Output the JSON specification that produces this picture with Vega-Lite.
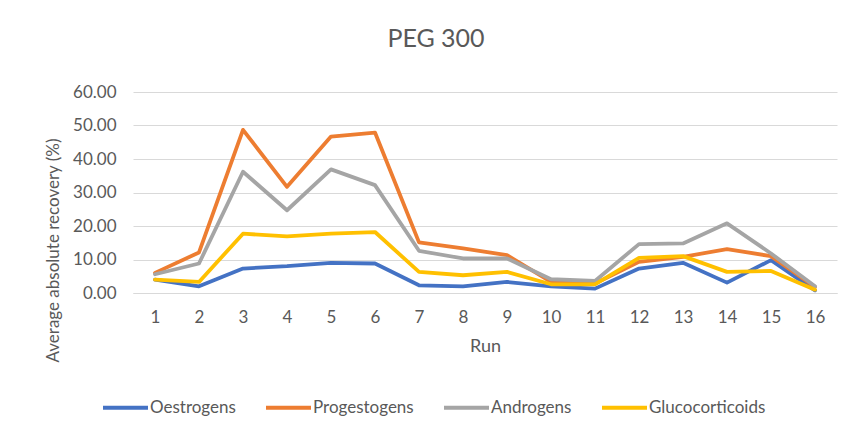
{
  "$schema": "https://vega.github.io/schema/vega-lite/v6.json",
  "width": 704,
  "height": 201,
  "autosize": {"type": "none"},
  "padding": {"left": 133, "top": 92, "right": 14, "bottom": 137},
  "background": "white",
  "config": {
    "font": "Lato",
    "view": {"stroke": null}
  },
  "title": {
    "text": "PEG 300",
    "fontSize": 25,
    "fontWeight": "normal",
    "color": "#595959",
    "anchor": "middle",
    "dx": -49,
    "offset": 31
  },
  "data": {
    "values": [
      {"run": 1, "group": "Oestrogens", "value": 4.0},
      {"run": 2, "group": "Oestrogens", "value": 2.0},
      {"run": 3, "group": "Oestrogens", "value": 7.3},
      {"run": 4, "group": "Oestrogens", "value": 8.0},
      {"run": 5, "group": "Oestrogens", "value": 9.0},
      {"run": 6, "group": "Oestrogens", "value": 8.8},
      {"run": 7, "group": "Oestrogens", "value": 2.3},
      {"run": 8, "group": "Oestrogens", "value": 2.0},
      {"run": 9, "group": "Oestrogens", "value": 3.3},
      {"run": 10, "group": "Oestrogens", "value": 2.0},
      {"run": 11, "group": "Oestrogens", "value": 1.3},
      {"run": 12, "group": "Oestrogens", "value": 7.3},
      {"run": 13, "group": "Oestrogens", "value": 9.0},
      {"run": 14, "group": "Oestrogens", "value": 3.1},
      {"run": 15, "group": "Oestrogens", "value": 9.8},
      {"run": 16, "group": "Oestrogens", "value": 0.8},
      {"run": 1, "group": "Progestogens", "value": 6.0},
      {"run": 2, "group": "Progestogens", "value": 12.1},
      {"run": 3, "group": "Progestogens", "value": 48.7},
      {"run": 4, "group": "Progestogens", "value": 31.7},
      {"run": 5, "group": "Progestogens", "value": 46.7},
      {"run": 6, "group": "Progestogens", "value": 47.9},
      {"run": 7, "group": "Progestogens", "value": 15.1},
      {"run": 8, "group": "Progestogens", "value": 13.3},
      {"run": 9, "group": "Progestogens", "value": 11.3},
      {"run": 10, "group": "Progestogens", "value": 3.3},
      {"run": 11, "group": "Progestogens", "value": 2.8},
      {"run": 12, "group": "Progestogens", "value": 9.3},
      {"run": 13, "group": "Progestogens", "value": 10.8},
      {"run": 14, "group": "Progestogens", "value": 13.1},
      {"run": 15, "group": "Progestogens", "value": 11.0},
      {"run": 16, "group": "Progestogens", "value": 1.8},
      {"run": 1, "group": "Androgens", "value": 5.6},
      {"run": 2, "group": "Androgens", "value": 8.8},
      {"run": 3, "group": "Androgens", "value": 36.2},
      {"run": 4, "group": "Androgens", "value": 24.7},
      {"run": 5, "group": "Androgens", "value": 36.9},
      {"run": 6, "group": "Androgens", "value": 32.2},
      {"run": 7, "group": "Androgens", "value": 12.6},
      {"run": 8, "group": "Androgens", "value": 10.3},
      {"run": 9, "group": "Androgens", "value": 10.3},
      {"run": 10, "group": "Androgens", "value": 4.1},
      {"run": 11, "group": "Androgens", "value": 3.6},
      {"run": 12, "group": "Androgens", "value": 14.6},
      {"run": 13, "group": "Androgens", "value": 14.8},
      {"run": 14, "group": "Androgens", "value": 20.8},
      {"run": 15, "group": "Androgens", "value": 11.8},
      {"run": 16, "group": "Androgens", "value": 2.0},
      {"run": 1, "group": "Glucocorticoids", "value": 4.0},
      {"run": 2, "group": "Glucocorticoids", "value": 3.3},
      {"run": 3, "group": "Glucocorticoids", "value": 17.7},
      {"run": 4, "group": "Glucocorticoids", "value": 16.9},
      {"run": 5, "group": "Glucocorticoids", "value": 17.7},
      {"run": 6, "group": "Glucocorticoids", "value": 18.2},
      {"run": 7, "group": "Glucocorticoids", "value": 6.3},
      {"run": 8, "group": "Glucocorticoids", "value": 5.3},
      {"run": 9, "group": "Glucocorticoids", "value": 6.3},
      {"run": 10, "group": "Glucocorticoids", "value": 2.6},
      {"run": 11, "group": "Glucocorticoids", "value": 2.6},
      {"run": 12, "group": "Glucocorticoids", "value": 10.5},
      {"run": 13, "group": "Glucocorticoids", "value": 11.0},
      {"run": 14, "group": "Glucocorticoids", "value": 6.3},
      {"run": 15, "group": "Glucocorticoids", "value": 6.6},
      {"run": 16, "group": "Glucocorticoids", "value": 1.0}
    ]
  },
  "mark": {"type": "line", "strokeWidth": 3.8, "strokeJoin": "round", "strokeCap": "round"},
  "encoding": {
    "x": {
      "field": "run",
      "type": "ordinal",
      "scale": {"type": "point", "padding": 0.5},
      "axis": {
        "title": "Run",
        "labelAngle": 0,
        "labelFontSize": 17,
        "labelColor": "#595959",
        "labelPadding": 16,
        "ticks": false,
        "grid": false,
        "domain": true,
        "domainColor": "#d9d9d9",
        "domainWidth": 1,
        "titleFontSize": 18,
        "titleFontWeight": "normal",
        "titleColor": "#595959",
        "titlePadding": 12
      }
    },
    "y": {
      "field": "value",
      "type": "quantitative",
      "scale": {"domain": [0, 60]},
      "axis": {
        "title": "Average absolute recovery (%)",
        "values": [0, 10, 20, 30, 40, 50, 60],
        "format": ".2f",
        "labelFontSize": 17,
        "labelColor": "#595959",
        "labelPadding": 17,
        "ticks": false,
        "domain": false,
        "gridColor": "#d9d9d9",
        "gridWidth": 1,
        "titleFontSize": 17,
        "titleFontWeight": "normal",
        "titleColor": "#595959",
        "titleAngle": -90,
        "titleX": -80,
        "titleY": 158,
        "titleAlign": "center",
        "titleBaseline": "middle"
      }
    },
    "color": {
      "field": "group",
      "type": "nominal",
      "scale": {
        "domain": ["Oestrogens", "Progestogens", "Androgens", "Glucocorticoids"],
        "range": ["#4472C4", "#ED7D31", "#A5A5A5", "#FFC000"]
      },
      "legend": {
        "title": null,
        "orient": "none",
        "direction": "horizontal",
        "legendX": -32,
        "legendY": 291,
        "padding": 0,
        "symbolType": "stroke",
        "symbolSize": 2025,
        "symbolStrokeWidth": 4,
        "labelFontSize": 17,
        "labelColor": "#595959",
        "labelOffset": 0,
        "columnPadding": 22
      }
    }
  }
}
